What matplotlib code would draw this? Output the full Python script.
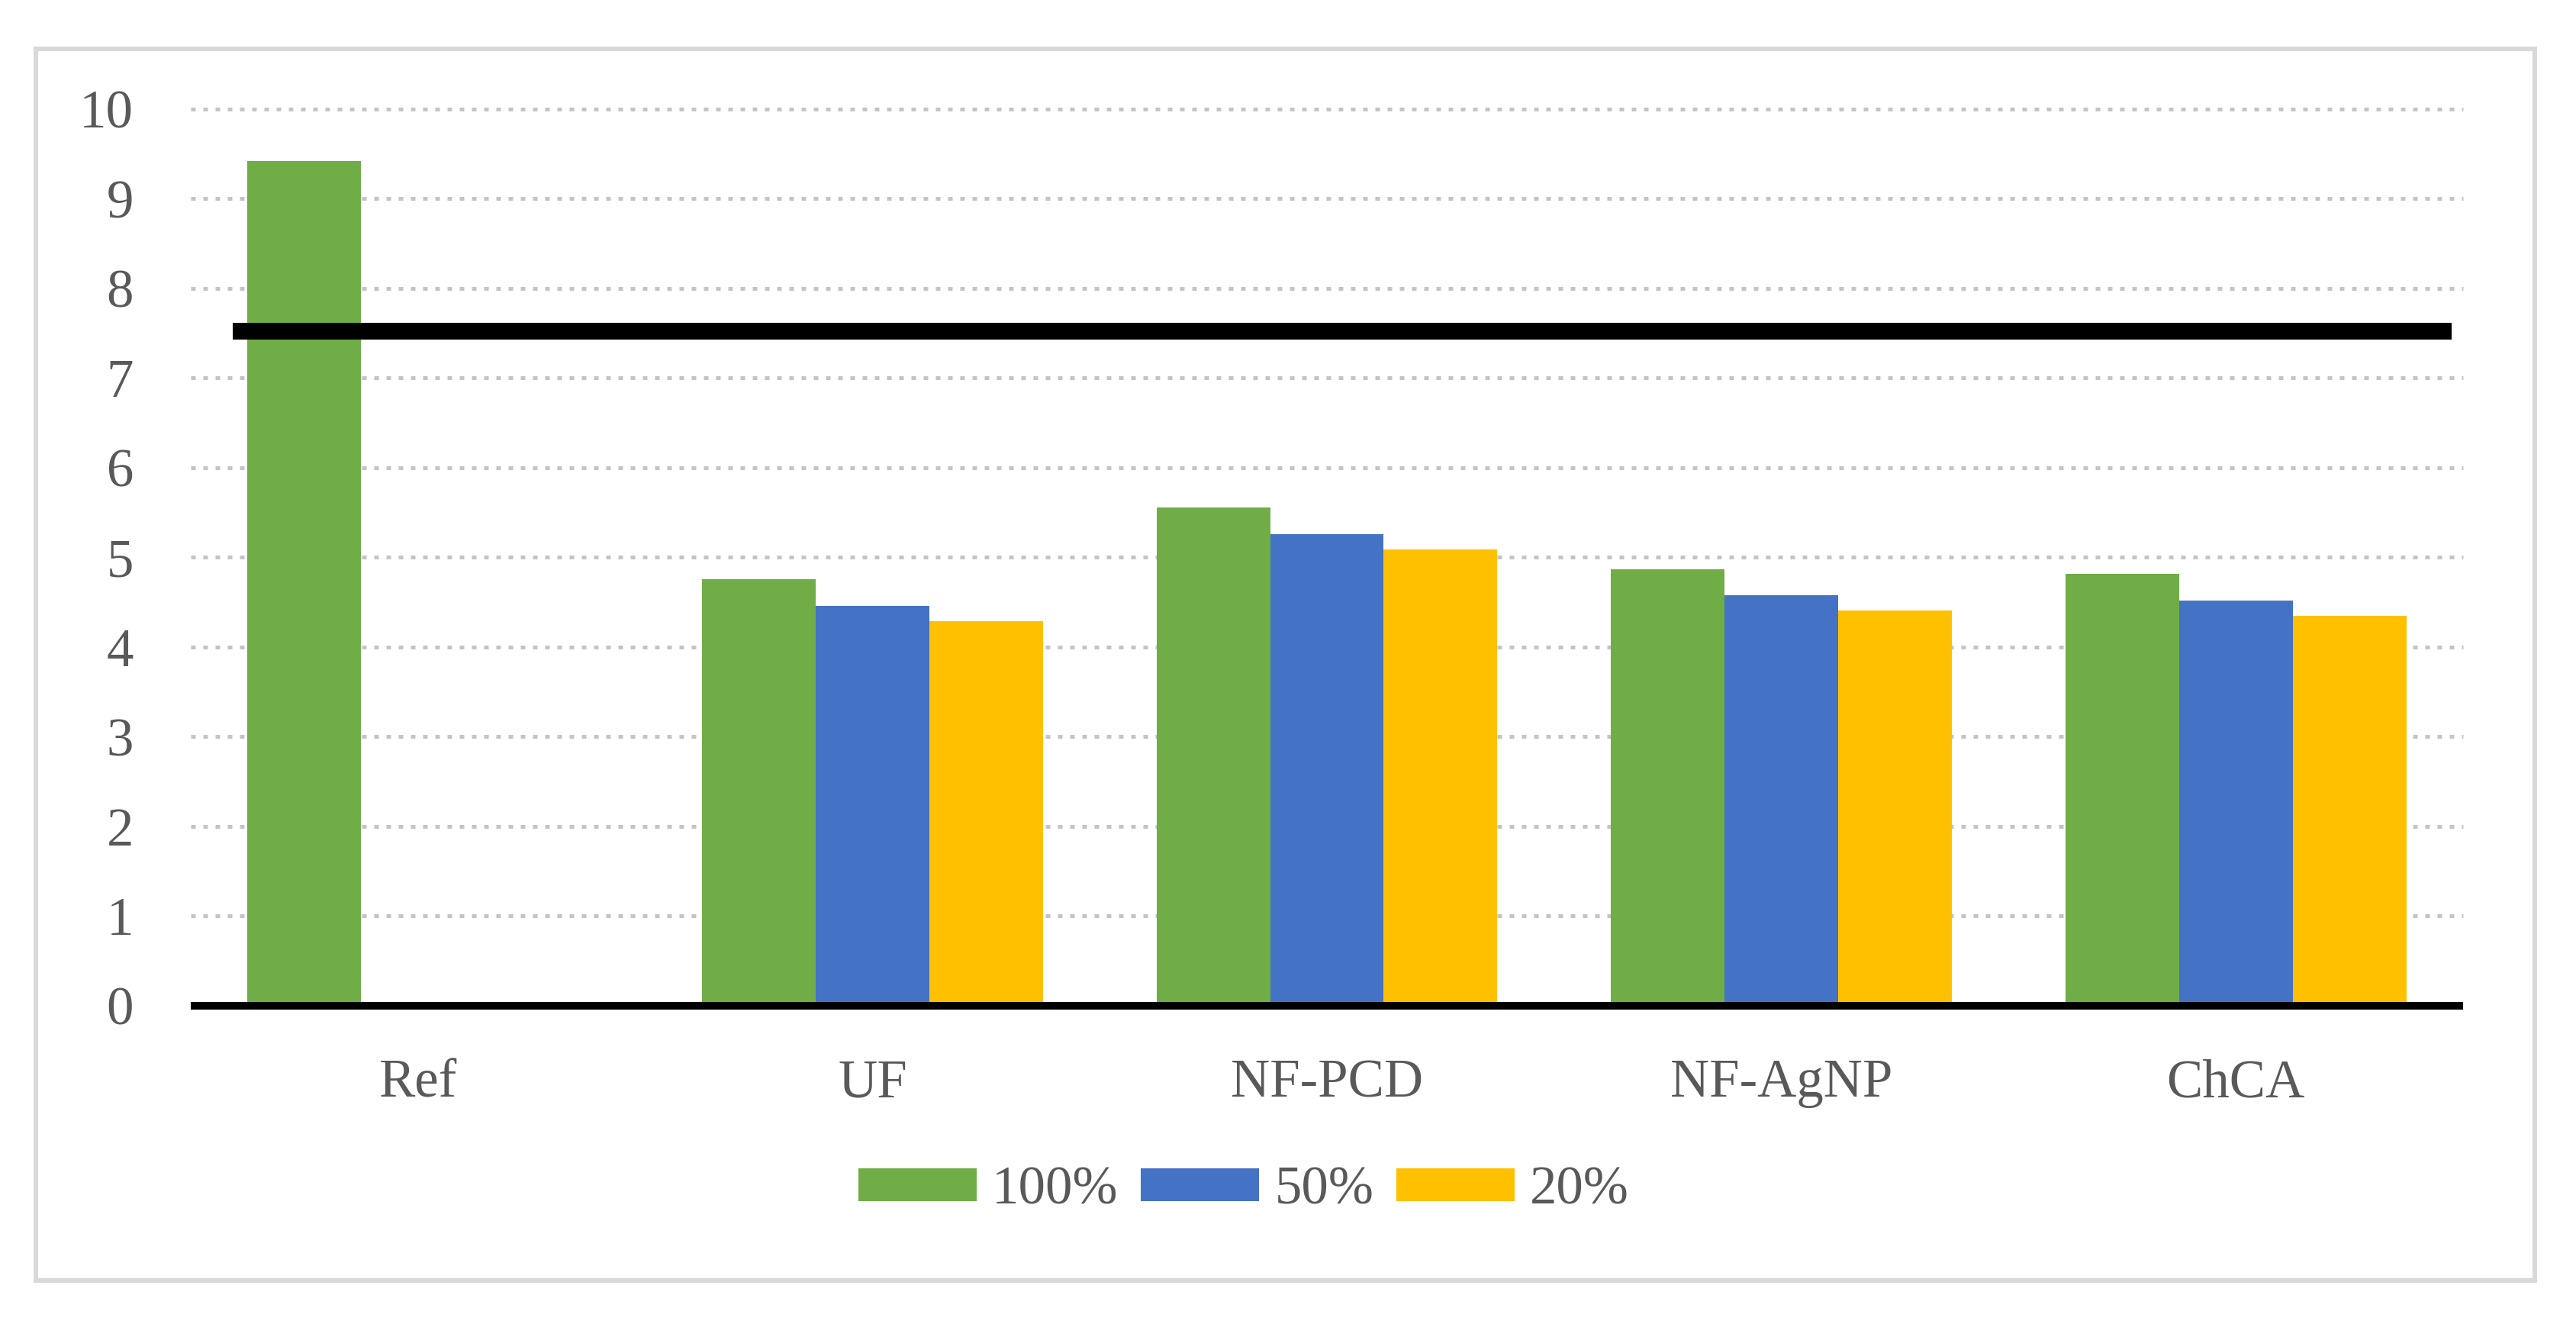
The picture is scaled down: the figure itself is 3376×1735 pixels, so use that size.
import numpy as np
import matplotlib
matplotlib.use("Agg")
import matplotlib.pyplot as plt
from matplotlib.patches import Rectangle

plt.rcParams['font.family'] = ['Liberation Serif', 'DejaVu Serif']

# values
categories = ["Ref", "UF", "NF-PCD", "NF-AgNP", "ChCA"]
series_names = ["100%", "50%", "20%"]
s100 = [9.42, 4.76, 5.56, 4.87, 4.82]
s50 = [np.nan, 4.46, 5.26, 4.58, 4.52]
s20 = [np.nan, 4.29, 5.09, 4.41, 4.35]
limit_value = 7.52
limit_span = (-0.408, 4.475)
yticks = list(range(0, 11))

colors = ['#70AD47', '#4472C4', '#FFC000']
txt = '#595959'

fig = plt.figure(figsize=(33.76, 17.35), dpi=100)
fig.patches.append(Rectangle((0.0139, 0.0329), 0.9702, 0.9302, transform=fig.transFigure,
                             fill=False, edgecolor='#d9d9d9', lw=4.3, zorder=0))
ax = fig.add_axes([0.07405, 0.24035, 0.8821, 0.67723])

x = np.arange(len(categories))
bw = 0.25
for i, (vals, name) in enumerate(zip([s100, s50, s20], series_names)):
    ax.bar(x + (i - 1) * bw, vals, width=bw, color=colors[i], label=name, zorder=3)

# dotted gridlines
for yv in yticks[1:]:
    ax.axhline(yv, color='#c4c4c4', lw=3.6, ls=(0, (1.2, 2.0)), zorder=1, clip_on=False)
ax.axhline(0, color='black', lw=7.2, zorder=4, clip_on=False, solid_capstyle='butt')

# threshold line
ax.plot(limit_span, [limit_value, limit_value], color='black', lw=15.8,
        solid_capstyle='butt', zorder=5)

ax.set_xlim(-0.5, len(categories) - 0.5)
ax.set_ylim(0, 10)
ax.set_yticks(yticks)
ax.set_xticks(x)
ax.set_xticklabels(categories)
for s in ax.spines.values():
    s.set_visible(False)
ax.tick_params(axis='both', length=0, labelsize=51, colors=txt)
ax.tick_params(axis='y', pad=54)
ax.tick_params(axis='x', pad=50)

fig.legend(loc='center', bbox_to_anchor=(0.4828, 1 - 1560 / 1735), ncol=3, frameon=False,
           fontsize=51, labelcolor=txt, handlelength=2.19, handleheight=0.54,
           handletextpad=0.28, columnspacing=0.42, borderaxespad=0, borderpad=0)

fig.savefig("out.png", dpi=100)
